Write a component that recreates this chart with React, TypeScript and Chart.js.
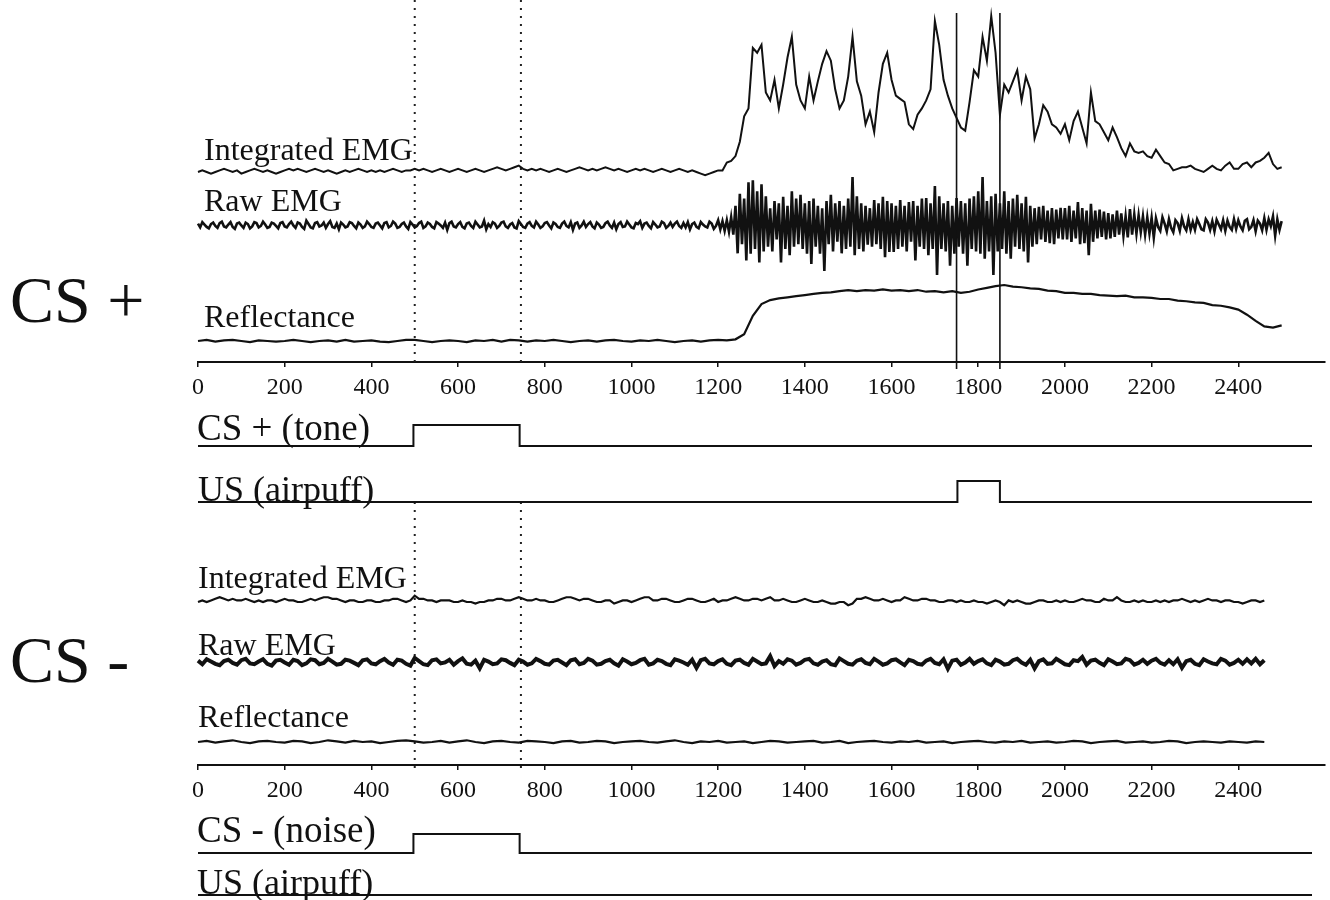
import React, { useEffect, useRef } from "react";
import { Chart, registerables } from "chart.js";

Chart.register(...registerables);

// ---------------- data (ms time base) ----------------
// CS+ trial: integrated EMG, 10 ms samples, arbitrary units (0 = resting level)
const IE_PLUS_STEP = 10;
const IE_PLUS = [
  0, 1, 0, -1, 0, 1, 2, 1, 0, 1,
  -1, 0, 1, 2, 1, 0, 1, 0, -1, 0,
  1, 2, 1, 2, 1, 0, 1, 2, 1, 0,
  1, 0, -1, 0, 1, 0, 1, 2, 1, 0,
  1, 0, 1, 0, 1, 2, 1, 0, 1, 1,
  2, 1, 2, 1, 0, 1, 2, 1, 0, 1,
  2, 1, 0, 1, 2, 1, 0, 1, 2, 3,
  2, 1, 2, 3, 4, 2, 1, 2, 1, 2,
  1, 0, 1, 2, 1, 0, 1, 2, 3, 2,
  1, 2, 1, 2, 3, 2, 1, 2, 1, 0,
  1, 2, 1, 2, 1, 0, 1, 2, 1, 0,
  1, 2, 1, 0, 1, 0, -1, -2, -1, 0,
  1, 1, 6, 7, 10, 19, 35, 40, 78, 75,
  80, 50, 45, 58, 40, 55, 72, 85, 55, 45,
  40, 60, 45, 57, 68, 76, 70, 52, 40, 45,
  60, 85, 57, 48, 30, 38, 25, 50, 68, 75,
  58, 48, 46, 44, 30, 27, 36, 40, 45, 52,
  95, 80, 58, 48, 40, 34, 28, 26, 44, 64,
  60, 85, 70, 98, 75, 36, 55, 50, 57, 64,
  45, 60, 52, 21, 30, 42, 38, 30, 28, 24,
  30, 20, 32, 38, 28, 18, 50, 32, 30, 25,
  20, 28, 22, 15, 10, 18, 13, 12, 13, 10,
  9, 14, 10, 6, 5, 1, 2, 3, 3, 4,
  2, 1, 0, 2, 4, 2, 1, 4, 6, 2,
  2, 5, 6, 3, 6, 7, 9, 12, 5, 2,
  3,
];

// CS+ trial: raw EMG, 5 ms samples, microvolt-like units
const RAW_PLUS_STEP = 5;
const RAW_PLUS = [
  3, -5, 6, 1, -4, -7, 2, 5, -2, -6, 4, 7, -3, -5, 1, 6, -4, -8, 3, 5,
  -1, -6, 5, 2, -7, -3, 6, 4, -5, -2, 7, 1, -6, -4, 5, 3, -2, -7, 4, 6,
  -3, -5, 2, 7, -1, -6, 5, 3, -4, -8, 9, 2, -5, -7, 4, 6, -3, -1, 5, -6,
  2, 8, -4, -6, 3, -9, 5, 1, -5, -3, 6, 4, -2, -7, 5, 1, -6, -3, 7, 2,
  -4, -6, 3, 5, -1, -7, 4, 6, -5, -2, 7, 3, -6, -4, 2, 5, -3, -8, 6, 1,
  -5, -2, 4, 7, -6, -3, 5, 2, -4, -7, 6, 3, -1, -6, 5, -10, 4, 7, -3, -5,
  2, 6, -4, -7, 3, 5, -2, -6, 7, 1, -5, -3, 9, -9, 2, -4, 6, 3, -6, -2,
  5, 7, -3, -6, 1, 4, -5, -7, 8, 2, -4, -6, 3, 6, -2, -5, 7, 1, -6, -3,
  4, 6, -1, -7, 5, 2, -4, -6, 3, 7, -2, -5, 6, -10, 3, 5, -6, -1, 7, -4,
  2, 6, -3, -7, 5, 1, -6, -4, 4, 7, -1, -6, 5, -9, 2, 6, -4, -3, 7, 1,
  -5, -7, 4, 2, 8, -6, 3, 5, -2, -7, 6, 1, -5, -3, 7, 4, -6, -2, 5, -4,
  3, 7, -2, -6, 4, -5, 6, -9, 2, 5, -4, -7, 6, 1, -3, -5, 7, 3, -8, -2,
  10, -9, 8, -12, 10, -14, 16, -20, 40, -59, 65, -40, 55, -74, 89, -60, 93, -50, 70, -78,
  85, -55, 60, -45, 35, -55, 50, -30, 45, -78, 59, -50, 40, -63, 70, -45, 55, -40, 63, -50,
  45, -60, 50, -81, 55, -45, 40, -60, 35, -96, 50, -40, 63, -55, 45, -35, 50, -59, 40, -50,
  55, -45, 100, -63, 60, -50, 45, -55, 40, -41, 35, -45, 52, -40, 45, -50, 59, -67, 50, -56,
  45, -56, 40, -50, 52, -45, 40, -55, 48, -35, 50, -74, 40, -45, 55, -50, 56, -63, 45, -50,
  81, -104, 60, -50, 45, -55, 50, -85, 40, -60, 56, -45, 50, -60, 45, -85, 55, -50, 60, -55,
  70, -60, 100, -70, 50, -55, 60, -104, 65, -55, 45, -50, 70, -60, 50, -70, 55, -45, 63, -50,
  45, -55, 59, -78, 40, -45, 35, -40, 38, -30, 40, -35, 30, -38, 35, -40, 32, -28, 36, -30,
  35, -30, 40, -35, 30, -28, 48, -40, 35, -38, 30, -63, 44, -35, 30, -28, 32, -25, 28, -30,
  25, -28, 22, -25, 30, -20, 24, -22, 18, -26, 33, -20, 22, -18, 20, -15, 18, -20, 16, -18,
  15, -26, 14, -4, -12, 16, 3, -13, 12, -6, -15, 10, 4, -12, 14, -3, -11, 12, -10, 6,
  -10, 12, 2, -9, -11, 12, 5, -10, 8, -13, 11, 1, -9, 10, -12, 9, -4, -10, 12, -8,
  10, -3, -11, 9, 12, -9, -4, 10, -13, 9, 3, -11, 14, -10, 12, -2, 18, -22, 12, -10,
  8,
];

// CS+ trial: reflectance (eyelid position), 20 ms samples, % of max closure
const REF_PLUS_STEP = 20;
const REF_PLUS = [
  0, 2, -1, 1, 2, 0, -2, 1, 0, -1,
  0, 2, 0, -2, 0, 1, -1, 2, -1, 0,
  1, -1, -2, 0, 2, 2, 0, -2, 0, 1,
  0, -2, 1, 0, 2, -1, 2, 1, -1, 1,
  0, 2, 0, -2, 0, 1, -1, 1, 2, 0,
  -1, 1, 0, 2, 0, -2, 0, 1, -1, 1,
  2, 1, 3, 12, 45, 66, 73, 76, 78, 80,
  82, 84, 86, 87, 89, 91, 89, 91, 90, 92,
  90, 91, 89, 91, 88, 89, 87, 89, 86, 88,
  92, 95, 98, 100, 97, 96, 94, 93, 90, 89,
  86, 86, 84, 84, 82, 81, 80, 81, 78, 78,
  77, 75, 75, 72, 71, 69, 68, 64, 63, 60,
  56, 47, 36, 26, 24,
  28,
];

// CS- trial: integrated EMG, 10 ms samples
const IE_MINUS_STEP = 10;
const IE_MINUS = [
  0, 1, 0, 1, 2, 3, 2, 1, 2, 1,
  1, 2, 1, 0, 1, 0, 1, 1, 0, 1,
  2, 1, 1, 0, 0, 1, 2, 1, 2, 3,
  3, 2, 2, 1, 0, 1, 1, 0, 0, 1,
  1, 0, 0, 1, 1, 2, 2, 1, 0, 1,
  4, 2, 2, 1, 1, 0, 1, 1, 1, 0,
  0, 1, 0, 0, -1, 0, 0, 1, 1, 2,
  2, 1, 1, 2, 3, 2, 1, 1, 2, 1,
  1, 0, 0, 1, 2, 3, 3, 2, 1, 2,
  2, 1, 0, 0, 1, 1, -1, 0, 1, 1,
  0, 1, 2, 3, 3, 1, 1, 2, 2, 1,
  0, 0, 1, 2, 2, 1, 0, 0, 1, 2,
  0, 1, 1, 2, 3, 2, 1, 1, 2, 2,
  1, 2, 3, 1, 1, 2, 1, 0, 0, 1,
  2, 1, 0, 0, 1, 0, -1, -1, 0, 0,
  -2, -1, 2, 2, 3, 2, 1, 1, 2, 1,
  0, 1, 1, 3, 2, 1, 1, 2, 2, 1,
  1, 0, 0, 1, 1, 0, 1, 0, 0, 1,
  0, 0, -1, 0, 1, 0, -2, 1, 0, 1,
  0, -1, -1, 0, 1, 1, 0, 0, 1, 0,
  1, 0, 0, 1, 2, 1, 1, 0, 0, 2,
  1, 1, 3, 1, 0, 0, 1, 0, 1, 0,
  0, 1, 0, 1, 0, 1, 1, 2, 1, 0,
  1, 0, 1, 2, 1, 1, 0, 1, 1, 0,
  0, -1, 0, 1, 1, 0, 1,
];

// CS- trial: raw EMG, 10 ms samples
const RAW_MINUS_STEP = 10;
const RAW_MINUS = [
  3, -5, 6, 1, -4, -7, 2, 5, -2, -6,
  4, 7, -3, -5, 1, 6, -4, -8, 3, 5,
  -1, -6, 5, 2, -7, -3, 6, 4, -5, -2,
  7, 1, -6, -4, 5, 3, -2, -7, 4, 6,
  -3, -5, 2, 7, -1, -6, 5, 3, -4, -8,
  9, 2, -5, -7, 4, 6, -3, -1, 5, -6,
  2, 8, -4, -6, 3, -14, 5, 1, -5, -3,
  6, 4, -2, -7, 5, 1, -6, -3, 7, 2,
  -4, -6, 3, 5, -1, -7, 4, 6, -5, -2,
  7, 3, -6, -4, 2, 5, -3, -8, 6, 1,
  -5, -2, 4, 7, -6, -3, 5, 2, -4, -7,
  6, 3, -1, -6, 5, -13, 4, 7, -3, -5,
  2, 6, -4, -7, 3, 5, -2, -6, 7, 1,
  -5, -3, 13, -9, 2, -4, 6, 3, -6, -2,
  5, 7, -3, -6, 1, 4, -5, -7, 8, 2,
  -4, -6, 3, 6, -2, -5, 7, 1, -6, -3,
  4, 6, -1, -7, 5, 2, -4, -6, 3, 7,
  -2, -5, 6, -15, 3, 5, -6, -1, 7, -4,
  2, 6, -3, -7, 5, 1, -6, -4, 4, 7,
  -1, -6, 5, -14, 2, 6, -4, -3, 7, 1,
  -5, -7, 4, 2, 11, -6, 3, 5, -2, -7,
  6, 1, -5, -3, 7, 4, -6, -2, 5, -4,
  3, 7, -2, -6, 4, -5, 6, -13, 2, 5,
  -4, -7, 6, 1, -3, -5, 7, 3, -6, -2,
  5, -4, 6, -3, 7, -5, 4,
];

// CS- trial: reflectance, 20 ms samples
const REF_MINUS_STEP = 20;
const REF_MINUS = [
  0, 2, -1, 1, 3, 0, -2, 1, 2, 0,
  -1, 2, 1, -2, 0, 3, 1, -1, 2, 0,
  1, -2, 0, 2, 3, 1, -1, 0, 2, -1,
  1, 3, 0, -2, 1, 2, 0, -1, 2, 1,
  0, -2, 1, 2, -1, 0, 2, 1, -2, 0,
  1, 2, 0, -1, 1, 3, 0, -2, 1, 0,
  2, -1, 0, 1, -2, 0, 2, 1, -1, 0,
  1, 2, -1, 0, 2, -2, 0, 1, 2, 0,
  -1, 1, 0, 2, -1, 0, 1, -2, 0, 1,
  2, 0, -1, 1, 0, 2, -1, 0, 1, -1,
  0, 2, 1, -2, 0, 1, 2, -1, 0, 1,
  -1, 0, 2, 1, -2, 0, 1, 0, -1, 1,
  0, -1, 1, 0,
];

// stimulus channels (step traces): times in ms and on/off levels
const CS_PLUS_TONE_T = [0, 497, 742, 2570];
const CS_PLUS_TONE_V = [0, 1, 0, 0];
const US_PLUS_T = [0, 1752, 1850, 2570];
const US_PLUS_V = [0, 1, 0, 0];
const CS_MINUS_NOISE_T = [0, 497, 742, 2570];
const CS_MINUS_NOISE_V = [0, 1, 0, 0];
const US_MINUS_T = [0, 2570];
const US_MINUS_V = [0, 0];

// event markers (ms)
const CS_WINDOW = [500, 745];
const US_WINDOW = [1750, 1850];

// axis ticks
const TICK_STEP = 200;
const TICK_LAST = 2400;
const X_MAX = 2600;

// ---------------- layout / style ----------------
const PAGE_W = 1330;
const PAGE_H = 900;
const PLOT_LEFT = 198;
const PLOT_RIGHT_PAD = 5;
const INK = "#111111";
const SERIF = '"Liberation Serif", "Times New Roman", serif';

const AXIS_Y_PLUS = 362;
const AXIS_Y_MINUS = 765;

const TEXTS = [
  { text: "CS +", x: 10, y: 322, size: 66 },
  { text: "Integrated EMG", x: 204, y: 160, size: 32 },
  { text: "Raw EMG", x: 204, y: 211, size: 32 },
  { text: "Reflectance", x: 204, y: 327, size: 32 },
  { text: "CS + (tone)", x: 197, y: 440, size: 37 },
  { text: "US (airpuff)", x: 198, y: 501, size: 36 },
  { text: "CS -", x: 10, y: 682, size: 66 },
  { text: "Integrated EMG", x: 198, y: 588, size: 32 },
  { text: "Raw EMG", x: 198, y: 655, size: 32 },
  { text: "Reflectance", x: 198, y: 727, size: 32 },
  { text: "CS - (noise)", x: 197, y: 842, size: 37 },
  { text: "US (airpuff)", x: 197, y: 894, size: 36 },
];

// y-axis band: value v0 drawn at page row p0, value v1 at page row p1
function band(v0: number, p0: number, v1: number, p1: number) {
  const per = (v1 - v0) / (p0 - p1);
  return {
    type: "linear" as const,
    axis: "y" as const,
    display: false,
    min: v0 - (PAGE_H - p0) * per,
    max: v1 + p1 * per,
  };
}

function series(vals: number[], step: number) {
  return vals.map((v, i) => ({ x: i * step, y: v }));
}
function steps(ts: number[], vs: number[]) {
  return ts.map((t, i) => ({ x: t, y: vs[i] }));
}

function xAxis(rowY: number) {
  return {
    type: "linear" as const,
    axis: "x" as const,
    min: 0,
    max: X_MAX,
    position: { yp: rowY },
    afterBuildTicks: (s: any) => {
      s.ticks = s.ticks.filter((t: any) => t.value <= TICK_LAST && t.value % TICK_STEP === 0);
    },
    ticks: {
      stepSize: TICK_STEP,
      autoSkip: false,
      maxRotation: 0,
      minRotation: 0,
      color: INK,
      padding: 7,
      font: { family: SERIF, size: 24 },
      callback: (v: any) => String(v),
    },
    grid: { drawOnChartArea: false, drawTicks: true, tickLength: 4, color: INK, lineWidth: 1.5 },
    border: { display: true, color: INK, width: 2 },
  };
}

const textPlugin = {
  id: "figureText",
  beforeDraw(chart: any) {
    const c = chart.ctx;
    c.save();
    c.fillStyle = "#ffffff";
    c.fillRect(0, 0, chart.width, chart.height);
    c.restore();
  },
  afterDraw(chart: any) {
    const c = chart.ctx;
    c.save();
    c.fillStyle = INK;
    c.textAlign = "left";
    c.textBaseline = "alphabetic";
    for (const t of TEXTS) {
      c.font = `${t.size}px ${SERIF}`;
      c.fillText(t.text, t.x, t.y);
    }
    c.restore();
  },
};

function trace(data: any[], xAxisID: string, yAxisID: string, extra: any = {}) {
  return {
    data,
    xAxisID,
    yAxisID,
    borderColor: INK,
    borderWidth: 2,
    pointRadius: 0,
    pointHoverRadius: 0,
    tension: 0,
    fill: false,
    clip: 8,
    ...extra,
  };
}

export default function App() {
  const ref = useRef<HTMLCanvasElement | null>(null);

  useEffect(() => {
    if (!ref.current) return;
    const dotted = { borderDash: [2, 6], borderWidth: 2, borderColor: "#222222" };
    const solid = { borderWidth: 1.6 };
    const markerTop = [0, 366];
    const markerBottom = [502, 770];
    const usMarker = [13, 369];

    const datasets: any[] = [
      trace(series(IE_PLUS, IE_PLUS_STEP), "x", "yIE1", { borderWidth: 2 }),
      trace(series(RAW_PLUS, RAW_PLUS_STEP), "x", "yRaw1", { borderWidth: 2.6 }),
      trace(series(REF_PLUS, REF_PLUS_STEP), "x", "yRef1", { borderWidth: 2.2 }),
      trace(steps(CS_PLUS_TONE_T, CS_PLUS_TONE_V), "x", "yTone1", { stepped: "before" }),
      trace(steps(US_PLUS_T, US_PLUS_V), "x", "yUS1", { stepped: "before" }),
      trace(series(IE_MINUS, IE_MINUS_STEP), "x2", "yIE2", { borderWidth: 2.2 }),
      trace(series(RAW_MINUS, RAW_MINUS_STEP), "x2", "yRaw2", { borderWidth: 4 }),
      trace(series(REF_MINUS, REF_MINUS_STEP), "x2", "yRef2", { borderWidth: 2.2 }),
      trace(steps(CS_MINUS_NOISE_T, CS_MINUS_NOISE_V), "x2", "yTone2", { stepped: "before" }),
      trace(steps(US_MINUS_T, US_MINUS_V), "x2", "yUS2", { stepped: "before" }),
    ];
    for (const t of CS_WINDOW) {
      datasets.push(trace([{ x: t, y: markerTop[0] }, { x: t, y: markerTop[1] }], "x", "yp", dotted));
      datasets.push(trace([{ x: t, y: markerBottom[0] }, { x: t, y: markerBottom[1] }], "x2", "yp", dotted));
    }
    for (const t of US_WINDOW) {
      datasets.push(trace([{ x: t, y: usMarker[0] }, { x: t, y: usMarker[1] }], "x", "yp", solid));
    }

    const chart = new Chart(ref.current, {
      type: "line",
      data: { datasets },
      options: {
        animation: false,
        responsive: false,
        maintainAspectRatio: false,
        devicePixelRatio: 1,
        events: [],
        layout: { padding: { left: PLOT_LEFT, right: PLOT_RIGHT_PAD, top: 0, bottom: 0 } },
        plugins: { legend: { display: false }, tooltip: { enabled: false }, title: { display: false } },
        scales: {
          x: xAxis(AXIS_Y_PLUS),
          x2: xAxis(AXIS_Y_MINUS),
          yp: { type: "linear", axis: "y", display: false, min: 0, max: PAGE_H, reverse: true },
          yIE1: band(0, 172, 100, 13),
          yRaw1: band(0, 225, 100, 177),
          yRef1: band(0, 341, 100, 285),
          yTone1: band(0, 446, 1, 425),
          yUS1: band(0, 502, 1, 481),
          yIE2: band(0, 602, 100, 443),
          yRaw2: band(0, 662, 100, 617),
          yRef2: band(0, 742, 100, 685),
          yTone2: band(0, 853, 1, 834),
          yUS2: band(0, 895, 1, 874),
        } as any,
      },
      plugins: [textPlugin],
    } as any);

    return () => chart.destroy();
  }, []);

  return (
    <div style={{ position: "absolute", left: 0, top: 0, width: PAGE_W, height: PAGE_H, background: "#fff" }}>
      <canvas ref={ref} width={PAGE_W} height={PAGE_H} style={{ width: PAGE_W, height: PAGE_H, display: "block" }} />
    </div>
  );
}
